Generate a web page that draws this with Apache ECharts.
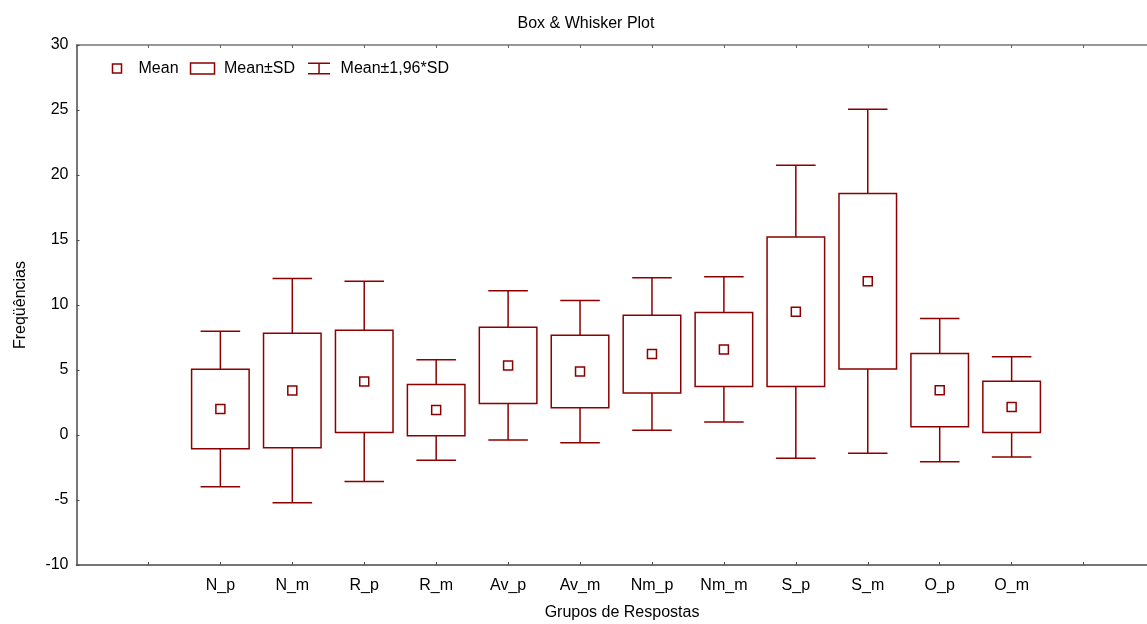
<!DOCTYPE html>
<html>
<head>
<meta charset="utf-8">
<title>Box & Whisker Plot</title>
<script src="https://cdn.jsdelivr.net/npm/echarts@6/dist/echarts.min.js"></script>
<style>
  html, body { margin: 0; padding: 0; background: #ffffff; }
  #chart { width: 1147px; height: 624px; }
</style>
</head>
<body>
<div id="chart"></div>
<script>
// Response groups and their summary statistics
const categories = ['N_p', 'N_m', 'R_p', 'R_m', 'Av_p', 'Av_m', 'Nm_p', 'Nm_m', 'S_p', 'S_m', 'O_p', 'O_m'];
const means = [2.00, 3.42, 4.12, 1.92, 5.35, 4.88, 6.23, 6.58, 9.48, 11.82, 3.45, 2.16];
const sds   = [3.05, 4.40, 3.93, 1.97, 2.93, 2.79, 2.99, 2.85, 5.75, 6.75, 2.81, 1.97];
const whiskerFactor = 1.96;

const FONT = '"Liberation Sans", Arial, Helvetica, sans-serif';
const RED = '#8b0000';
const AXIS = '#4a4a4a';

// The x axis has empty slots before and after the groups
const slotOffset = 2;
const slotCount = 15;

const rows = categories.map((c, i) => [i + slotOffset, means[i], sds[i]]);

function renderBox(params, api) {
  const x = api.value(0), m = api.value(1), s = api.value(2);
  const top = api.coord([x, m + s]);
  const bot = api.coord([x, m - s]);
  const w = api.size([0.8, 0])[0];
  return {
    type: 'rect',
    shape: { x: top[0] - w / 2, y: top[1], width: w, height: bot[1] - top[1] },
    style: { fill: 'none', stroke: RED, lineWidth: 1.5 }
  };
}

function renderWhisker(params, api) {
  const x = api.value(0), m = api.value(1), s = api.value(2);
  const hi = api.coord([x, m + whiskerFactor * s]);
  const bh = api.coord([x, m + s]);
  const bl = api.coord([x, m - s]);
  const lo = api.coord([x, m - whiskerFactor * s]);
  const cw = api.size([0.55, 0])[0];
  const style = { stroke: RED, lineWidth: 1.5, fill: 'none' };
  return {
    type: 'group',
    children: [
      { type: 'line', shape: { x1: hi[0], y1: hi[1], x2: bh[0], y2: bh[1] }, style },
      { type: 'line', shape: { x1: bl[0], y1: bl[1], x2: lo[0], y2: lo[1] }, style },
      { type: 'line', shape: { x1: hi[0] - cw / 2, y1: hi[1], x2: hi[0] + cw / 2, y2: hi[1] }, style },
      { type: 'line', shape: { x1: lo[0] - cw / 2, y1: lo[1], x2: lo[0] + cw / 2, y2: lo[1] }, style }
    ]
  };
}

const legendIconStyle = { color: 'none', borderColor: RED, borderWidth: 1.5 };

const chart = echarts.init(document.getElementById('chart'), null, { renderer: 'canvas' });
chart.setOption({
  animation: false,
  backgroundColor: '#ffffff',
  title: {
    text: 'Box & Whisker Plot',
    left: 581,
    top: 11,
    textAlign: 'center',
    textStyle: { fontFamily: FONT, fontSize: 16, fontWeight: 'normal', color: '#000' }
  },
  legend: {
    left: 102,
    top: 60,
    padding: 0,
    itemGap: 9,
    itemWidth: 29,
    itemHeight: 12,
    selectedMode: false,
    textStyle: { fontFamily: FONT, fontSize: 16, color: '#000' },
    data: [
      { name: 'Mean', icon: 'path://M0,0M29,12M8,1.5h9v9h-9z', itemStyle: legendIconStyle },
      { name: 'Mean±SD', icon: 'path://M0,0M29,12M0.5,0.5H24.5V11.5H0.5z', itemStyle: legendIconStyle },
      { name: 'Mean±1,96*SD', icon: 'path://M0,0M29,12M1.5,0.8H23.5M12.5,0.8V11.2M1.5,11.2H23.5', itemStyle: legendIconStyle }
    ]
  },
  grid: { left: 76.5, top: 45, width: 1079, height: 520, outerBoundsMode: 'none' },
  xAxis: [
    {
      type: 'value',
      position: 'bottom',
      min: 0,
      max: slotCount,
      interval: 1,
      splitLine: { show: false },
      axisLine: { show: true, onZero: false, lineStyle: { color: AXIS, width: 1.5 } },
      axisTick: { show: true, inside: true, length: 3, lineStyle: { color: AXIS } },
      axisLabel: {
        margin: 13,
        fontFamily: FONT,
        fontSize: 16,
        color: '#000',
        showMinLabel: false,
        showMaxLabel: false,
        formatter: v => categories[v - slotOffset] || ''
      },
      name: 'Grupos de Respostas',
      nameLocation: 'middle',
      nameGap: 40,
      nameTextStyle: { fontFamily: FONT, fontSize: 16, color: '#000', padding: [0, 0, 0, 12] }
    },
    {
      type: 'value',
      position: 'top',
      min: 0,
      max: slotCount,
      interval: 1,
      splitLine: { show: false },
      axisLine: { show: true, onZero: false, lineStyle: { color: '#777', width: 1.5 } },
      axisTick: { show: true, inside: true, length: 3, lineStyle: { color: '#666' } },
      axisLabel: { show: false }
    }
  ],
  yAxis: {
    type: 'value',
    min: -10,
    max: 30,
    interval: 5,
    splitLine: { show: false },
    axisLine: { show: true, onZero: false, lineStyle: { color: AXIS, width: 1.5 } },
    axisTick: { show: true, inside: true, length: 3, lineStyle: { color: AXIS } },
    axisLabel: { margin: 8, fontFamily: FONT, fontSize: 16, color: '#000' },
    name: 'Freqüências',
    nameLocation: 'middle',
    nameRotate: 90,
    nameGap: 48,
    nameTextStyle: { fontFamily: FONT, fontSize: 16, color: '#000' }
  },
  series: [
    {
      name: 'Mean±1,96*SD',
      type: 'custom',
      renderItem: renderWhisker,
      encode: { x: 0, y: 1 },
      data: rows,
      z: 2
    },
    {
      name: 'Mean±SD',
      type: 'custom',
      renderItem: renderBox,
      encode: { x: 0, y: 1 },
      data: rows,
      z: 3
    },
    {
      name: 'Mean',
      type: 'scatter',
      symbol: 'rect',
      symbolSize: 9,
      itemStyle: { color: '#ffffff', borderColor: RED, borderWidth: 1.5, opacity: 1 },
      data: rows.map(r => [r[0], r[1]]),
      z: 4
    }
  ]
});
</script>
</body>
</html>
